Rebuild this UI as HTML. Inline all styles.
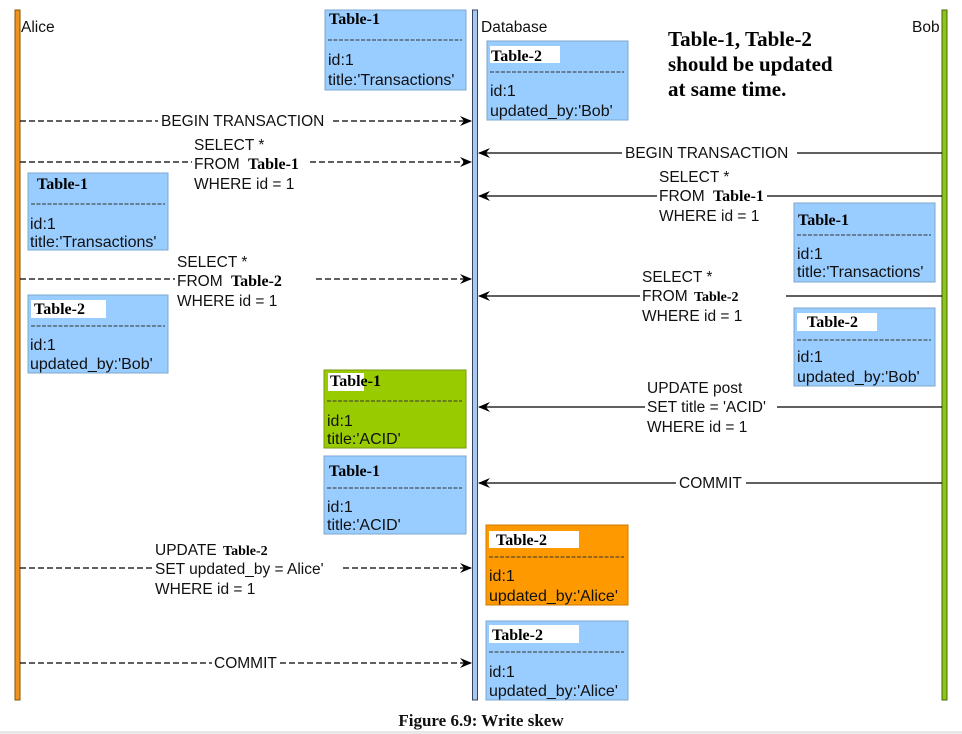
<!DOCTYPE html>
<html><head><meta charset="utf-8"><style>
html,body{margin:0;padding:0;background:#fff;width:962px;height:734px;overflow:hidden}
svg{display:block}
.t{font-family:"Liberation Sans",Arial,sans-serif;font-size:15.5px;fill:#111}
.b{font-family:"Liberation Sans",Arial,sans-serif;font-size:16px;fill:#111}
.h{font-family:"Liberation Serif",serif;font-size:16px;font-weight:bold;fill:#000}
</style></head><body>
<svg width="962" height="734" viewBox="0 0 962 734" xmlns="http://www.w3.org/2000/svg">
<defs>
<marker id="a" markerWidth="12" markerHeight="10" refX="11" refY="5" orient="auto" markerUnits="userSpaceOnUse">
<path d="M0,0 L12,5 L0,10 L4,5 Z" fill="#000"/></marker>
</defs>
<!-- lifelines -->
<rect x="15" y="10" width="5" height="690" fill="#f0921e" stroke="#8a5200" stroke-width="1"/>
<rect x="472.5" y="10" width="5" height="690" fill="#a8c8f0" stroke="#334466" stroke-width="1"/>
<rect x="942" y="10" width="5" height="690" fill="#8cc41c" stroke="#4a6a00" stroke-width="1"/>
<text class="t" x="21" y="32">Alice</text>
<text class="t" x="481" y="32">Database</text>
<text class="t" x="912" y="32">Bob</text>
<g font-family="Liberation Serif,serif" font-weight="bold" font-size="21" fill="#000">
<text x="668" y="46">Table-1, Table-2</text>
<text x="668" y="71">should be updated</text>
<text x="668" y="96">at same time.</text>
</g>

<!-- boxes -->
<g>
<rect x="325" y="10" width="141" height="80" fill="#99ccff" stroke="#7fa7cc"/>
<text class="h" x="329" y="24">Table-1</text><line x1="328" y1="40" x2="462" y2="40" stroke="#333" stroke-dasharray="4,1.5"/>
<text class="b" x="328" y="65">id:1</text><text class="b" x="328" y="85">title:'Transactions'</text>

<rect x="487" y="41" width="141" height="79" fill="#99ccff" stroke="#7fa7cc"/>
<rect x="490" y="46" width="70" height="17" fill="#fff"/>
<text class="h" x="491" y="61">Table-2</text><line x1="490" y1="72" x2="624" y2="72" stroke="#333" stroke-dasharray="4,1.5"/>
<text class="b" x="490" y="96">id:1</text><text class="b" x="490" y="116">updated_by:'Bob'</text>

<rect x="28" y="173" width="140" height="77" fill="#99ccff" stroke="#7fa7cc"/>
<text class="h" x="37" y="189">Table-1</text><line x1="31" y1="204" x2="165" y2="204" stroke="#333" stroke-dasharray="4,1.5"/>
<text class="b" x="30" y="229">id:1</text><text class="b" x="30" y="247">title:'Transactions'</text>

<rect x="28" y="295" width="140" height="78" fill="#99ccff" stroke="#7fa7cc"/>
<rect x="31" y="300" width="75" height="18" fill="#fff"/>
<text class="h" x="34" y="314">Table-2</text><line x1="31" y1="326" x2="165" y2="326" stroke="#333" stroke-dasharray="4,1.5"/>
<text class="b" x="30" y="350">id:1</text><text class="b" x="30" y="369">updated_by:'Bob'</text>

<rect x="794" y="203" width="141" height="79" fill="#99ccff" stroke="#7fa7cc"/>
<text class="h" x="798" y="225">Table-1</text><line x1="797" y1="235" x2="931" y2="235" stroke="#333" stroke-dasharray="4,1.5"/>
<text class="b" x="797" y="259">id:1</text><text class="b" x="797" y="277">title:'Transactions'</text>

<rect x="794" y="308" width="141" height="78" fill="#99ccff" stroke="#7fa7cc"/>
<rect x="797" y="313" width="80" height="18" fill="#fff"/>
<text class="h" x="807" y="327">Table-2</text><line x1="797" y1="340" x2="931" y2="340" stroke="#333" stroke-dasharray="4,1.5"/>
<text class="b" x="797" y="362">id:1</text><text class="b" x="797" y="382">updated_by:'Bob'</text>

<rect x="324" y="370" width="142" height="78" fill="#99cc00" stroke="#7a9a10"/>
<rect x="328" y="373" width="36" height="18" fill="#fff"/>
<text class="h" x="330" y="386">Table-1</text><line x1="327" y1="401" x2="462" y2="401" stroke="#333" stroke-dasharray="4,1.5"/>
<text class="b" x="327" y="426">id:1</text><text class="b" x="327" y="444">title:'ACID'</text>

<rect x="324" y="456" width="142" height="78" fill="#99ccff" stroke="#7fa7cc"/>
<text class="h" x="329" y="476">Table-1</text><line x1="327" y1="488" x2="462" y2="488" stroke="#333" stroke-dasharray="4,1.5"/>
<text class="b" x="327" y="512">id:1</text><text class="b" x="327" y="530">title:'ACID'</text>

<rect x="486" y="525" width="142" height="80" fill="#ff9900" stroke="#cc7a00"/>
<rect x="489" y="531" width="90" height="17" fill="#fff"/>
<text class="h" x="496" y="545">Table-2</text><line x1="489" y1="557" x2="624" y2="557" stroke="#333" stroke-dasharray="4,1.5"/>
<text class="b" x="489" y="581">id:1</text><text class="b" x="489" y="601">updated_by:'Alice'</text>

<rect x="486" y="621" width="142" height="79" fill="#99ccff" stroke="#7fa7cc"/>
<rect x="489" y="625" width="90" height="18" fill="#fff"/>
<text class="h" x="492" y="640">Table-2</text><line x1="489" y1="652" x2="624" y2="652" stroke="#333" stroke-dasharray="4,1.5"/>
<text class="b" x="489" y="677">id:1</text><text class="b" x="489" y="696">updated_by:'Alice'</text>
</g>

<!-- Alice arrows (dashed) -->
<g stroke="#000" stroke-width="1.2" stroke-dasharray="6,3" fill="none">
<line x1="20" y1="121" x2="158" y2="121"/><line x1="333" y1="121" x2="471" y2="121" marker-end="url(#a)"/>
<line x1="20" y1="162" x2="192" y2="162"/><line x1="310" y1="162" x2="471" y2="162" marker-end="url(#a)"/>
<line x1="20" y1="279" x2="175" y2="279"/><line x1="316" y1="279" x2="471" y2="279" marker-end="url(#a)"/>
<line x1="20" y1="568" x2="153" y2="568"/><line x1="343" y1="568" x2="471" y2="568" marker-end="url(#a)"/>
<line x1="20" y1="663" x2="212" y2="663"/><line x1="280" y1="663" x2="471" y2="663" marker-end="url(#a)"/>
</g>
<!-- Bob arrows (solid) -->
<g stroke="#000" stroke-width="1.2" fill="none">
<line x1="622" y1="153" x2="479" y2="153" marker-end="url(#a)"/><line x1="797" y1="153" x2="942" y2="153"/>
<line x1="657" y1="196" x2="479" y2="196" marker-end="url(#a)"/><line x1="767" y1="196" x2="942" y2="196"/>
<line x1="640" y1="296" x2="479" y2="296" marker-end="url(#a)"/><line x1="786" y1="296" x2="942" y2="296"/>
<line x1="645" y1="407" x2="479" y2="407" marker-end="url(#a)"/><line x1="777" y1="407" x2="942" y2="407"/>
<line x1="676" y1="483" x2="479" y2="483" marker-end="url(#a)"/><line x1="746" y1="483" x2="942" y2="483"/>
</g>

<!-- labels -->
<text class="t" x="161" y="126">BEGIN TRANSACTION</text>
<text class="t" x="194" y="150">SELECT *</text>
<text class="t" x="194" y="169">FROM <tspan class="h" dx="4">Table-1</tspan></text>
<text class="t" x="194" y="189">WHERE id = 1</text>
<text class="t" x="177" y="267">SELECT *</text>
<text class="t" x="177" y="286">FROM <tspan class="h" dx="4">Table-2</tspan></text>
<text class="t" x="177" y="306">WHERE id = 1</text>
<text class="t" x="155" y="555">UPDATE <tspan class="h" dx="2" style="font-size:14px">Table-2</tspan></text>
<text class="t" x="155" y="574">SET updated_by = Alice'</text>
<text class="t" x="155" y="594">WHERE id = 1</text>
<text class="t" x="214" y="668">COMMIT</text>

<text class="t" x="625" y="158">BEGIN TRANSACTION</text>
<text class="t" x="659" y="182">SELECT *</text>
<text class="t" x="659" y="201">FROM <tspan class="h" dx="4">Table-1</tspan></text>
<text class="t" x="659" y="221">WHERE id = 1</text>
<text class="t" x="642" y="282">SELECT *</text>
<text class="t" x="642" y="301">FROM <tspan class="h" dx="2" style="font-size:14px">Table-2</tspan></text>
<text class="t" x="642" y="321">WHERE id = 1</text>
<text class="t" x="647" y="393">UPDATE post</text>
<text class="t" x="647" y="412">SET title = 'ACID'</text>
<text class="t" x="647" y="432">WHERE id = 1</text>
<text class="t" x="679" y="488">COMMIT</text>

<text x="481" y="726" text-anchor="middle" font-family="Liberation Serif,serif" font-weight="bold" font-size="17" fill="#111">Figure 6.9: Write skew</text>
<rect x="0" y="731" width="962" height="3" fill="#e8e8e8"/>
</svg>
</body></html>
